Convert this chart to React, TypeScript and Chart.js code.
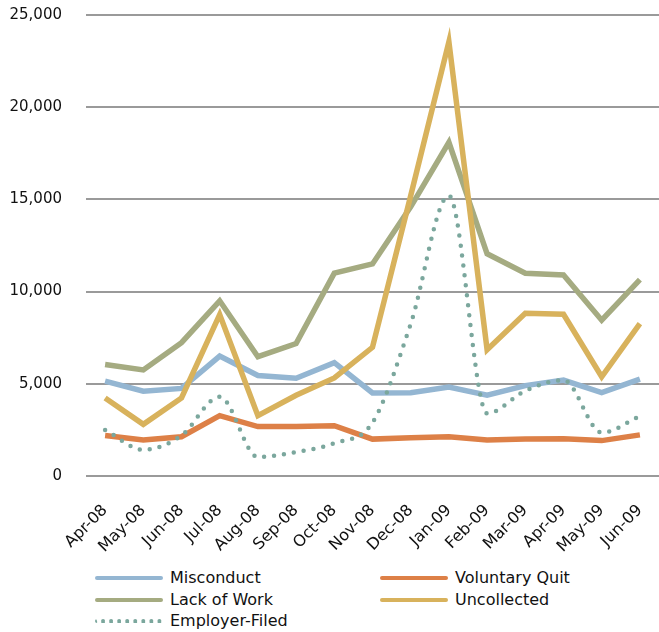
import React, { useEffect, useRef } from "react";
import { Chart, registerables } from "chart.js";

Chart.register(...registerables);

// Monthly claim counts by separation reason
const months = [
  "Apr-08", "May-08", "Jun-08", "Jul-08", "Aug-08", "Sep-08", "Oct-08", "Nov-08",
  "Dec-08", "Jan-09", "Feb-09", "Mar-09", "Apr-09", "May-09", "Jun-09",
];

const misconduct = [5150, 4600, 4750, 6500, 5450, 5300, 6150, 4500, 4520, 4820, 4380, 4900, 5200, 4520, 5250];
const voluntaryQuit = [2200, 1950, 2130, 3270, 2680, 2680, 2730, 2000, 2080, 2130, 1950, 2000, 2020, 1920, 2230];
const lackOfWork = [6050, 5750, 7230, 9500, 6470, 7180, 11000, 11500, 14600, 18100, 12050, 11000, 10900, 8450, 10650];
const uncollected = [4230, 2800, 4230, 8750, 3270, 4380, 5320, 6980, 15200, 23550, 6850, 8820, 8770, 5380, 8260];
const employerFiled = [2500, 1420, 2200, 4300, 1030, 1300, 1780, 2900, 8250, 15200, 3400, 4620, 5200, 2350, 3250];

const yTicks = [0, 5000, 10000, 15000, 20000, 25000];

const COLORS = {
  misconduct: "#94B6D2",
  voluntaryQuit: "#DD8047",
  lackOfWork: "#A5AB81",
  uncollected: "#D8B25C",
  employerFiled: "#7BA79D",
};

const FONT = "'DejaVu Sans', sans-serif";

const legendItems = [
  { label: "Misconduct", color: COLORS.misconduct, dotted: false, col: 0, row: 0 },
  { label: "Voluntary Quit", color: COLORS.voluntaryQuit, dotted: false, col: 1, row: 0 },
  { label: "Lack of Work", color: COLORS.lackOfWork, dotted: false, col: 0, row: 1 },
  { label: "Uncollected", color: COLORS.uncollected, dotted: false, col: 1, row: 1 },
  { label: "Employer-Filed", color: COLORS.employerFiled, dotted: true, col: 0, row: 2 },
];

export default function App() {
  const canvasRef = useRef<HTMLCanvasElement | null>(null);

  useEffect(() => {
    document.body.style.margin = "0";
    const canvas = canvasRef.current;
    if (!canvas) return;

    const line = (label: string, data: number[], color: string, order: number) => ({
      label,
      data,
      borderColor: color,
      backgroundColor: color,
      borderWidth: 5.5,
      pointRadius: 0,
      tension: 0,
      fill: false,
      order,
    });

    const chart = new Chart(canvas, {
      type: "line",
      data: {
        labels: months,
        datasets: [
          line("Misconduct", misconduct, COLORS.misconduct, 5),
          line("Voluntary Quit", voluntaryQuit, COLORS.voluntaryQuit, 4),
          line("Lack of Work", lackOfWork, COLORS.lackOfWork, 3),
          line("Uncollected", uncollected, COLORS.uncollected, 2),
          {
            label: "Employer-Filed",
            data: employerFiled,
            borderColor: COLORS.employerFiled,
            backgroundColor: COLORS.employerFiled,
            borderWidth: 4.5,
            borderDash: [0, 10],
            borderCapStyle: "round",
            pointRadius: 0,
            cubicInterpolationMode: "monotone",
            fill: false,
            order: 1,
          },
        ],
      },
      options: {
        responsive: false,
        animation: false,
        layout: { padding: { top: 15, left: 0, right: 0, bottom: 0 } },
        plugins: {
          legend: { display: false },
          tooltip: { enabled: false },
        },
        scales: {
          x: {
            offset: true,
            grid: { display: false, drawTicks: false },
            border: { display: false },
            ticks: {
              font: { family: FONT, size: 16 },
              color: "#111",
              maxRotation: 45,
              minRotation: 45,
              padding: 25,
              autoSkip: false,
            },
            afterFit: (scale: any) => {
              scale.height = 84;
              scale.paddingLeft = 0;
              scale.paddingRight = 0;
            },
          },
          y: {
            min: 0,
            max: 25000,
            afterBuildTicks: (scale: any) => {
              scale.ticks = yTicks.map((v) => ({ value: v }));
            },
            ticks: {
              font: { family: FONT, size: 15 },
              color: "#111",
              padding: 24,
              callback: (v: any) => Number(v).toLocaleString("en-US"),
            },
            grid: { color: "#9a9a9a", lineWidth: 2, drawTicks: false },
            border: { display: false },
            afterFit: (scale: any) => {
              scale.width = 86;
              scale.paddingTop = 9;
              scale.paddingBottom = 9;
            },
          },
        },
      },
    } as any);

    return () => chart.destroy();
  }, []);

  return (
    <div
      style={{
        position: "absolute",
        left: 0,
        top: 0,
        width: 659,
        height: 632,
        background: "#fff",
        overflow: "hidden",
      }}
    >
      <canvas ref={canvasRef} width={659} height={560} style={{ display: "block" }} />
      {legendItems.map((item) => {
        const cy = 578 + item.row * 21.5;
        const sx = item.col === 0 ? 95 : 380;
        return (
          <div key={item.label}>
            <div
              style={{
                position: "absolute",
                left: sx,
                top: cy - 2,
                width: 68,
                height: 0,
                borderTop: item.dotted
                  ? `4px dotted ${item.color}`
                  : `4px solid ${item.color}`,
                borderRadius: 2,
              }}
            />
            <div
              style={{
                position: "absolute",
                left: sx + 75,
                top: cy - 11,
                height: 22,
                lineHeight: "22px",
                fontFamily: FONT,
                fontSize: 16,
                color: "#111",
                whiteSpace: "nowrap",
              }}
            >
              {item.label}
            </div>
          </div>
        );
      })}
    </div>
  );
}
